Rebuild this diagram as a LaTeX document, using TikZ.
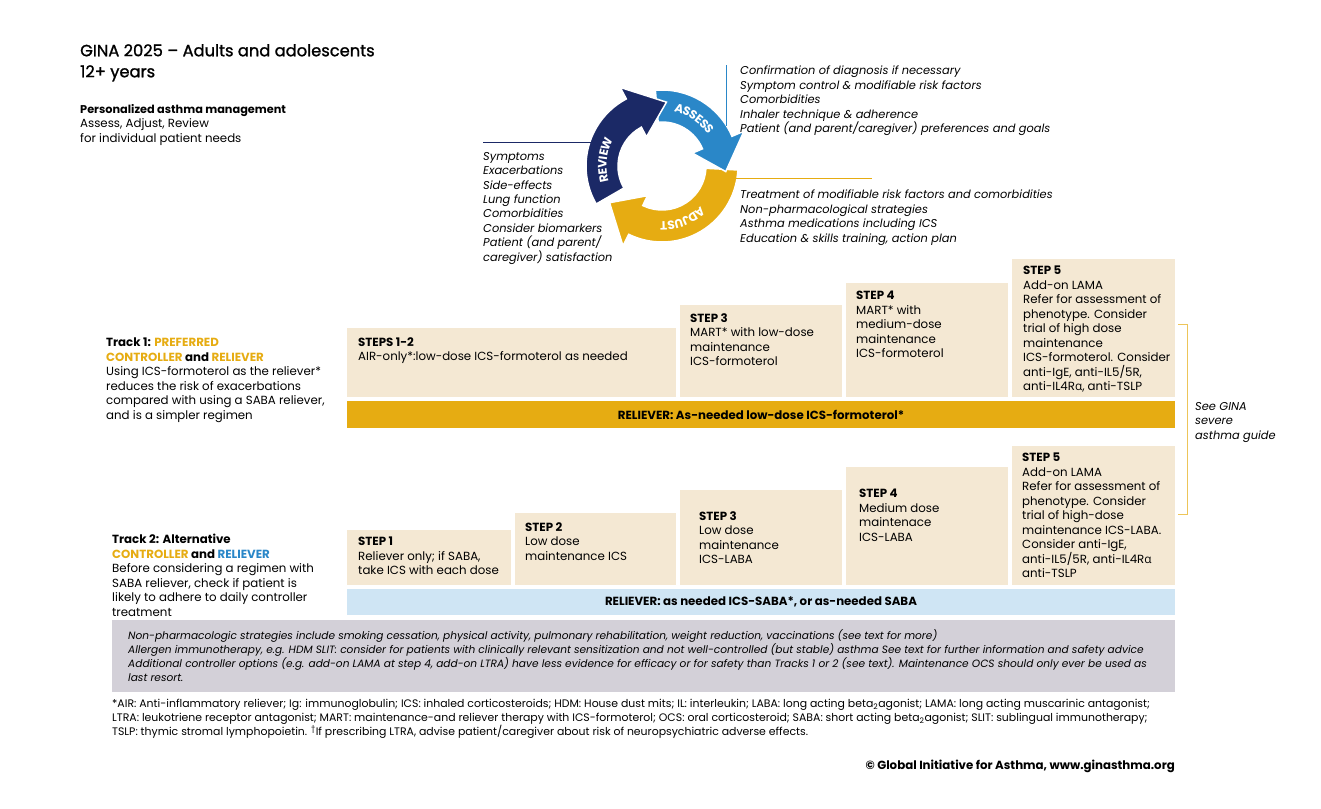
\documentclass[tikz,border=0pt]{standalone}
\usepackage{fontspec}
\setmainfont{Poppins}
\newfontfamily\greekfont{Open Sans}
\newfontfamily\titlefont{Poppins}[FakeBold=1.3]
\usepackage{xcolor}
\usetikzlibrary{positioning,decorations.text}

\definecolor{ginagold}{HTML}{E6AC12}
\definecolor{ginablue}{HTML}{2A87C8}
\definecolor{ginanavy}{HTML}{1B2966}
\definecolor{ginabeige}{HTML}{F4E8D3}
\definecolor{ginasky}{HTML}{CFE5F4}
\definecolor{ginagrey}{HTML}{D3D0D8}

\begin{document}
\begin{tikzpicture}[x=1pt,y=-1pt]
	\tikzstyle{body} = [inner sep=0, anchor=north west, align=left, font=\fontsize{11.8}{14.5}\selectfont]
	\tikzstyle{note} = [body, font=\fontsize{11.4}{14.4}\selectfont\itshape]
	\tikzstyle{stepbox} = [fill=ginabeige, draw=none, inner sep=0, anchor=south west]
	\tikzstyle{steptext} = [body]
	\tikzstyle{relbar} = [draw=none, inner sep=0, font=\fontsize{11.8}{14}\selectfont\bfseries]
	\tikzstyle{cyclabel} = [decorate, decoration={text along path, text align=center, raise=-4.5pt}]
	\useasboundingbox (0,0) rectangle (1321,808);

	% heading
	\node[body, font=\fontsize{16.3}{21}\selectfont\titlefont] (title) at (80,44) {GINA 2025 – Adults and adolescents\\12+ years};
	\node[body] (pam) at (80,104) {\textbf{\fontsize{11.3}{14}\selectfont Personalized asthma management}\\Assess, Adjust, Review\\for individual patient needs};

	% cycle
	\coordinate (cyc) at (662,166);
	\begin{scope}[shift={(cyc)}, yscale=-1]
		\foreach \tl/\bs/\tp/\col in {-3/-116/-145/ginagold, 95/23/-5/ginablue, 210/118/86/ginanavy}
			\filldraw[fill=\col, draw=white, line width=1.5pt]
				(\tl:76) arc[start angle=\tl, end angle=\bs, radius=76] -- (\bs:89) -- (\tp:64)
				-- (\bs:33) -- (\bs:44) arc[start angle=\bs, end angle=\tl, radius=44] -- cycle;
		\path[cyclabel, decoration={text={|\color{white}\fontsize{12}{12}\selectfont\bfseries|ASSESS}}]
			(88:60) arc[start angle=88, end angle=24, radius=60];
		\path[cyclabel, decoration={text={|\color{white}\fontsize{12}{12}\selectfont\bfseries|ADJUST}}]
			(-34:60) arc[start angle=-34, end angle=-104, radius=60];
		\path[cyclabel, decoration={text={|\color{white}\fontsize{12}{12}\selectfont\bfseries|REVIEW}}]
			(208:60) arc[start angle=208, end angle=140, radius=60];
	\end{scope}
	\draw[ginanavy, line width=0.8pt] (483,142) -- (591,142);
	\draw[ginablue, line width=0.8pt] (726,65) -- (726,126);
	\draw[ginagold, line width=0.8pt] (734,178) -- (872,178);

	\node[note] (review) at (483,152) {Symptoms\\Exacerbations\\Side-effects\\Lung function\\Comorbidities\\Consider biomarkers\\Patient (and parent/\\caregiver) satisfaction};
	\node[note] (assess) at (740,66) {Confirmation of diagnosis if necessary\\Symptom control \& modifiable risk factors\\Comorbidities\\Inhaler technique \& adherence\\Patient (and parent/caregiver) preferences and goals};
	\node[note] (adjust) at (740,190) {Treatment of modifiable risk factors and comorbidities\\Non-pharmacological strategies\\Asthma medications including ICS\\Education \& skills training, action plan};

	% track 1
	\node[body] (track1) at (106,338) {\textbf{Track 1: \textcolor{ginagold}{PREFERRED}}\\\textbf{\textcolor{ginagold}{CONTROLLER} and \textcolor{ginagold}{RELIEVER}}\\Using ICS-formoterol as the reliever*\\reduces the risk of exacerbations\\compared with using a SABA reliever,\\and is a simpler regimen};
	\node[stepbox, minimum width=329pt, minimum height=69pt] (a12) at (347,397) {};
	\node[stepbox, minimum width=162pt, minimum height=92pt] (a3) at (680,397) {};
	\node[stepbox, minimum width=162pt, minimum height=114pt] (a4) at (846,397) {};
	\node[stepbox, minimum width=163pt, minimum height=138pt] (a5) at (1012,397) {};
	\node[steptext] (a12t) at (358,337) {\textbf{STEPS 1-2}\\AIR-only*:low-dose ICS-formoterol as needed};
	\node[steptext] (a3t) at (690,313) {\textbf{STEP 3}\\MART* with low-dose\\maintenance\\ICS-formoterol};
	\node[steptext] (a4t) at (856,291) {\textbf{STEP 4}\\MART* with\\medium-dose\\maintenance\\ICS-formoterol};
	\node[steptext] (a5t) at (1023,266) {\textbf{STEP 5}\\Add-on LAMA\\Refer for assessment of\\phenotype. Consider\\trial of high dose\\maintenance\\ICS-formoterol. Consider\\anti-IgE, anti-IL5/5R,\\anti-IL4R{\greekfont α}, anti-TSLP};
	\node[relbar, fill=ginagold, minimum width=828pt, minimum height=27pt] (bar1) at (761,414.5) {RELIEVER: As-needed low-dose ICS-formoterol*};

	% track 2
	\node[body] (track2) at (112,534) {\textbf{Track 2: Alternative}\\\textbf{\textcolor{ginagold}{CONTROLLER} and \textcolor{ginablue}{RELIEVER}}\\Before considering a regimen with\\SABA reliever, check if patient is\\likely to adhere to daily controller\\treatment};
	\node[stepbox, minimum width=164pt, minimum height=55pt] (b1) at (347,585) {};
	\node[stepbox, minimum width=161pt, minimum height=72pt] (b2) at (515,585) {};
	\node[stepbox, minimum width=162pt, minimum height=95pt] (b3) at (680,585) {};
	\node[stepbox, minimum width=162pt, minimum height=118pt] (b4) at (846,585) {};
	\node[stepbox, minimum width=163pt, minimum height=139pt] (b5) at (1012,585) {};
	\node[steptext] (b1t) at (358,537) {\textbf{STEP 1}\\Reliever only; if SABA,\\take ICS with each dose};
	\node[steptext] (b2t) at (525,522) {\textbf{STEP 2}\\Low dose\\maintenance ICS};
	\node[steptext] (b3t) at (699,511) {\textbf{STEP 3}\\Low dose\\maintenance\\ICS-LABA};
	\node[steptext] (b4t) at (859,489) {\textbf{STEP 4}\\Medium dose\\maintenace\\ICS-LABA};
	\node[steptext] (b5t) at (1022,453) {\textbf{STEP 5}\\Add-on LAMA\\Refer for assessment of\\phenotype. Consider\\trial of high-dose\\maintenance ICS-LABA.\\Consider anti-IgE,\\anti-IL5/5R, anti-IL4R{\greekfont α}\\anti-TSLP};
	\node[relbar, fill=ginasky, minimum width=828pt, minimum height=26pt] (bar2) at (761,602) {RELIEVER: as needed ICS-SABA*, or as-needed SABA};

	% severe asthma bracket
	\coordinate (brtop) at (1178,324);
	\coordinate (brbot) at (1178,514);
	\draw[ginagold!70, line width=1pt] (brtop) -- ++(9,0) |- (brbot);
	\node[note] (severe) at (1195,402) {See GINA\\severe\\asthma guide};

	% other options
	\node[fill=ginagrey, inner sep=0, anchor=north west, minimum width=1063pt, minimum height=72pt] (others) at (112,620) {};
	\node[note, font=\fontsize{10.6}{14.2}\selectfont\itshape] (otherst) at (128,629) {Non-pharmacologic strategies include smoking cessation, physical activity, pulmonary rehabilitation, weight reduction, vaccinations (see text for more)\\Allergen immunotherapy, e.g. HDM SLIT: consider for patients with clinically relevant sensitization and not well-controlled (but stable) asthma See text for further information and safety advice\\Additional controller options (e.g. add-on LAMA at step 4, add-on LTRA) have less evidence for efficacy or for safety than Tracks 1 or 2 (see text). Maintenance OCS should only ever be used as\\last resort.};

	% footnotes
	\node[body, font=\fontsize{10.9}{14}\selectfont] (abbr) at (112,699) {*AIR: Anti-inflammatory reliever; Ig: immunoglobulin; ICS: inhaled corticosteroids; HDM: House dust mits; IL: interleukin; LABA: long acting beta\textsubscript{2}agonist; LAMA: long acting muscarinic antagonist;\\LTRA: leukotriene receptor antagonist; MART: maintenance-and reliever therapy with ICS-formoterol; OCS: oral corticosteroid; SABA: short acting beta\textsubscript{2}agonist; SLIT: sublingual immunotherapy;\\TSLP: thymic stromal lymphopoietin. \textsuperscript{\textdagger}If prescribing LTRA, advise patient/caregiver about risk of neuropsychiatric adverse effects.};
	\node[inner sep=0, anchor=east, font=\fontsize{11.8}{13}\selectfont\bfseries] (copy) at (1175,766) {© Global Initiative for Asthma, www.ginasthma.org};
\end{tikzpicture}
\end{document}
